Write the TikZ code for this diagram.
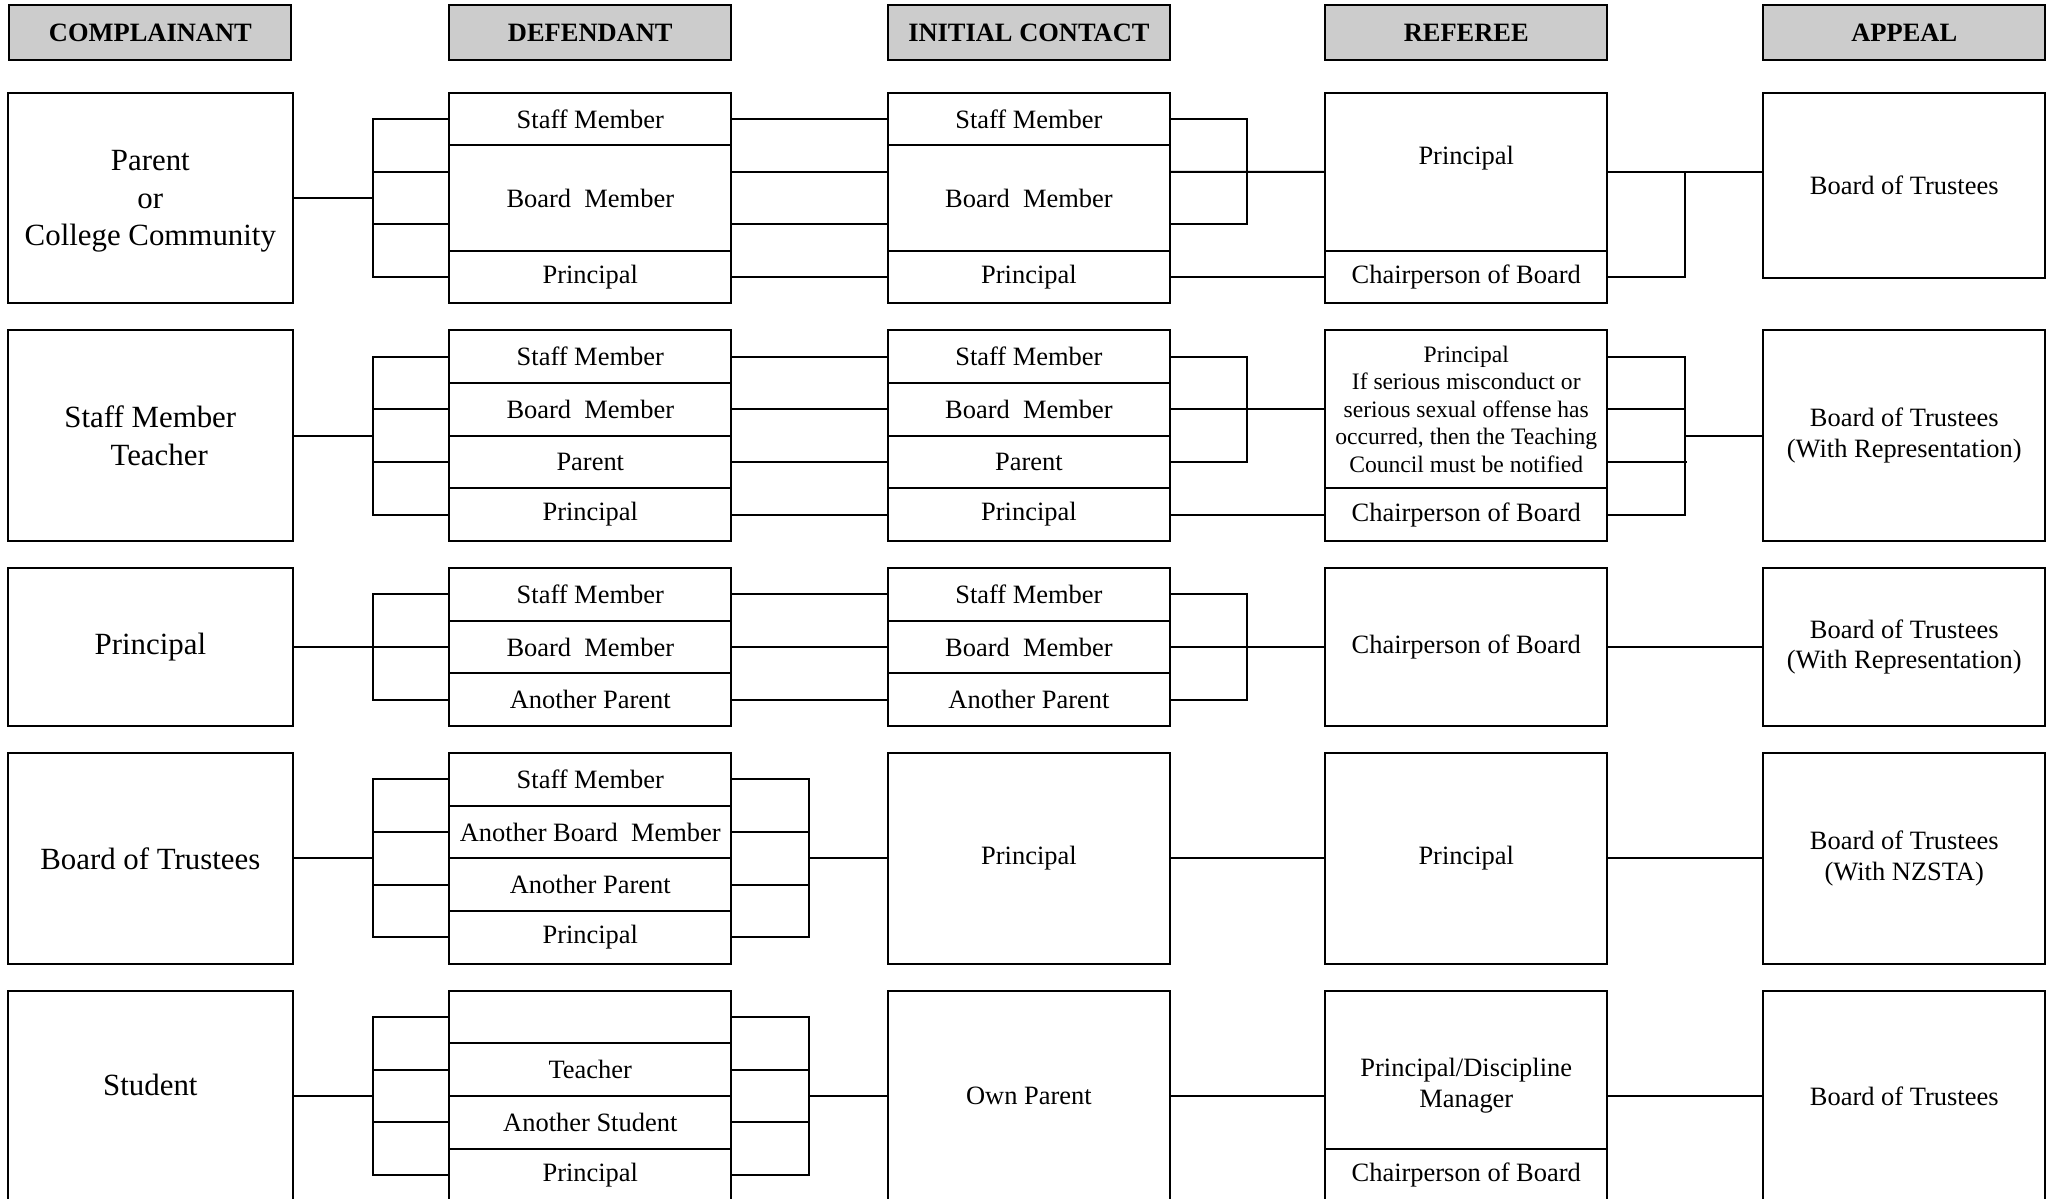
\documentclass[tikz,border=0pt]{standalone}
\usepackage{fontspec}
\setmainfont{Liberation Serif}
\definecolor{headgray}{RGB}{204,204,204}

\begin{document}
\begin{tikzpicture}[x=0.593pt, y=-0.593pt, line width=0.9pt,
    head/.style={draw, fill=headgray, font=\fontsize{12}{14}\selectfont\bfseries, minimum width=127.8pt, minimum height=24.9pt, inner sep=1pt},
    cell/.style={draw, minimum width=127.8pt, minimum height=23.87pt, inner sep=2pt, align=center, font=\fontsize{12}{14}\selectfont},
    cell2/.style={cell, minimum height=47.74pt},
    cell3/.style={cell, minimum height=71.6pt},
    cell4/.style={cell, minimum height=95.47pt},
    comp/.style={cell4, minimum width=129.3pt, font=\fontsize{14}{17}\selectfont}]

    \useasboundingbox (0,0) rectangle (1568,917);

    % headings
    \node[head] (hComp) at (115,25) {COMPLAINANT};
    \node[head] (hDef) at (451.5,25) {DEFENDANT};
    \node[head] (hInit) at (787,25) {INITIAL CONTACT};
    \node[head] (hRef) at (1121.5,25) {REFEREE};
    \node[head] (hApp) at (1456.5,25) {APPEAL};

    % parent
    \node[comp] (C1) at (115,151.5) {};
    \node[font=\fontsize{14}{17}\selectfont, align=center] (C1t) at (115,154) {Parent\\or\\College Community};
    \node[cell] (D1a) at (451.5,91.1) {Staff Member};
    \node[cell2] (D1b) at (451.5,151.5) {Board\ \ Member};
    \node[cell] (D1c) at (451.5,211.9) {Principal};
    \node[cell] (I1a) at (787,91.1) {Staff Member};
    \node[cell2] (I1b) at (787,151.5) {Board\ \ Member};
    \node[cell] (I1c) at (787,211.9) {Principal};
    \node[cell3] (R1a) at (1121.5,131.4) {};
    \node[font=\fontsize{12}{14}\selectfont] (R1t) at (1121.5,121) {Principal};
    \node[cell] (R1b) at (1121.5,211.9) {Chairperson of Board};
    \node[cell, minimum height=83.9pt] (A1) at (1456.5,141.7) {Board of Trustees};

    \coordinate (L1) at (285,151.5);
    \coordinate (M1) at (954,151.5);
    \coordinate (N1) at (1289,211.9);
    \draw (C1) -- (L1);
    \draw (D1a.west) -| (L1) |- (D1c.west);
    \draw ([yshift=11.93pt]D1b.west) -- ([yshift=11.93pt]L1);
    \draw ([yshift=-11.93pt]D1b.west) -- ([yshift=-11.93pt]L1);
    \draw (D1a) -- (I1a);
    \draw ([yshift=11.93pt]D1b.east) -- ([yshift=11.93pt]I1b.west);
    \draw ([yshift=-11.93pt]D1b.east) -- ([yshift=-11.93pt]I1b.west);
    \draw (D1c) -- (I1c);
    \draw (I1a.east) -| (M1) |- ([yshift=-11.93pt]I1b.east);
    \draw ([yshift=11.93pt]I1b.east) -- (R1a.west);
    \draw (I1c) -- (R1b);
    \draw (R1a.east) -- (R1a.east -| A1.west);
    \draw (R1b.east) -- (N1) -- (N1 |- R1a.east);

    % staff member
    \node[comp] (C2) at (115,333.25) {Staff Member\\\hspace*{8pt}Teacher};
    \node[cell] (D2a) at (451.5,272.9) {Staff Member};
    \node[cell] (D2b) at (451.5,313.1) {Board\ \ Member};
    \node[cell] (D2c) at (451.5,353.4) {Parent};
    \node[cell] (D2d) at (451.5,393.6) {Principal};
    \node[cell] (I2a) at (787,272.9) {Staff Member};
    \node[cell] (I2b) at (787,313.1) {Board\ \ Member};
    \node[cell] (I2c) at (787,353.4) {Parent};
    \node[cell] (I2d) at (787,393.6) {Principal};
    \node[cell3, font=\fontsize{10.7}{12.5}\selectfont] (R2a) at (1121.5,313.1)
        {Principal\\If serious misconduct or\\serious sexual offense has\\occurred, then the Teaching\\Council must be notified};
    \node[cell] (R2b) at (1121.5,393.6) {Chairperson of Board};
    \node[cell4] (A2) at (1456.5,333.25) {Board of Trustees\\(With Representation)};

    \coordinate (L2) at (285,333.25);
    \coordinate (M2) at (954,313.1);
    \coordinate (N2) at (1289,333.25);
    \draw (C2) -- (L2);
    \draw (D2a.west) -| (L2) |- (D2d.west);
    \draw (D2b.west) -- (L2 |- D2b.west);
    \draw (D2c.west) -- (L2 |- D2c.west);
    \draw (D2a) -- (I2a);
    \draw (D2b) -- (I2b);
    \draw (D2c) -- (I2c);
    \draw (D2d) -- (I2d);
    \draw (I2a.east) -| (M2) |- (I2c.east);
    \draw (I2b) -- (R2a);
    \draw (I2d) -- (R2b);
    \draw ([yshift=23.87pt]R2a.east) -| (N2) |- (R2b.east);
    \draw (R2a.east) -- (R2a.east -| N2);
    \draw ([yshift=-23.87pt]R2a.east) -- ++(60,0);
    \draw (N2) -- (A2);

    % principal
    \node[comp, minimum height=71.6pt] (C3) at (115,494.9) {Principal};
    \node[cell] (D3a) at (451.5,454.6) {Staff Member};
    \node[cell] (D3b) at (451.5,494.9) {Board\ \ Member};
    \node[cell] (D3c) at (451.5,535.1) {Another Parent};
    \node[cell] (I3a) at (787,454.6) {Staff Member};
    \node[cell] (I3b) at (787,494.9) {Board\ \ Member};
    \node[cell] (I3c) at (787,535.1) {Another Parent};
    \node[cell3] (R3) at (1121.5,494.9) {Chairperson of Board};
    \node[cell3] (A3) at (1456.5,494.9) {Board of Trustees\\(With Representation)};

    \coordinate (L3) at (285,494.9);
    \coordinate (M3) at (954,494.9);
    \draw (C3) -- (L3);
    \draw (D3a.west) -| (L3) |- (D3c.west);
    \draw (D3b) -- (L3);
    \draw (D3a) -- (I3a);
    \draw (D3b) -- (I3b);
    \draw (D3c) -- (I3c);
    \draw (I3a.east) -| (M3) |- (I3c.east);
    \draw (I3b) -- (R3);
    \draw (R3) -- (A3);

    % board of trustees
    \node[comp] (C4) at (115,656.5) {Board of Trustees};
    \node[cell] (D4a) at (451.5,596.1) {Staff Member};
    \node[cell] (D4b) at (451.5,636.4) {Another Board\ \ Member};
    \node[cell] (D4c) at (451.5,676.6) {Another Parent};
    \node[cell] (D4d) at (451.5,716.9) {Principal};
    \node[cell4] (I4) at (787,656.5) {Principal};
    \node[cell4] (R4) at (1121.5,656.5) {Principal};
    \node[cell4] (A4) at (1456.5,656.5) {Board of Trustees\\(With NZSTA)};

    \coordinate (L4) at (285,656.5);
    \coordinate (K4) at (619,656.5);
    \draw (C4) -- (L4);
    \draw (D4a.west) -| (L4) |- (D4d.west);
    \draw (D4b.west) -- (L4 |- D4b.west);
    \draw (D4c.west) -- (L4 |- D4c.west);
    \draw (D4a.east) -| (K4) |- (D4d.east);
    \draw (D4b.east) -- (K4 |- D4b.east);
    \draw (D4c.east) -- (K4 |- D4c.east);
    \draw (K4) -- (I4);
    \draw (I4) -- (R4);
    \draw (R4) -- (A4);

    % student
    \node[comp] (C5) at (115,838.25) {};
    \node[font=\fontsize{14}{17}\selectfont] (C5t) at (115,830) {Student};
    \node[cell] (D5a) at (451.5,777.9) {};
    \node[cell] (D5b) at (451.5,818.1) {Teacher};
    \node[cell] (D5c) at (451.5,858.4) {Another Student};
    \node[cell] (D5d) at (451.5,898.6) {Principal};
    \node[cell4] (I5) at (787,838.25) {Own Parent};
    \node[cell3] (R5a) at (1121.5,818.1) {};
    \node[font=\fontsize{12}{14}\selectfont, align=center] (R5t) at (1121.5,830.5) {Principal/Discipline\\Manager};
    \node[cell] (R5b) at (1121.5,898.6) {Chairperson of Board};
    \node[cell4] (A5) at (1456.5,838.25) {Board of Trustees};

    \coordinate (L5) at (285,838.25);
    \coordinate (K5) at (619,838.25);
    \draw (C5) -- (L5);
    \draw (D5a.west) -| (L5) |- (D5d.west);
    \draw (D5b.west) -- (L5 |- D5b.west);
    \draw (D5c.west) -- (L5 |- D5c.west);
    \draw (D5a.east) -| (K5) |- (D5d.east);
    \draw (D5b.east) -- (K5 |- D5b.east);
    \draw (D5c.east) -- (K5 |- D5c.east);
    \draw (K5) -- (I5);
    \draw (I5.east) -- (I5.east -| R5a.west);
    \draw (I5.east -| R5a.east) -- (A5.west);
\end{tikzpicture}
\end{document}
